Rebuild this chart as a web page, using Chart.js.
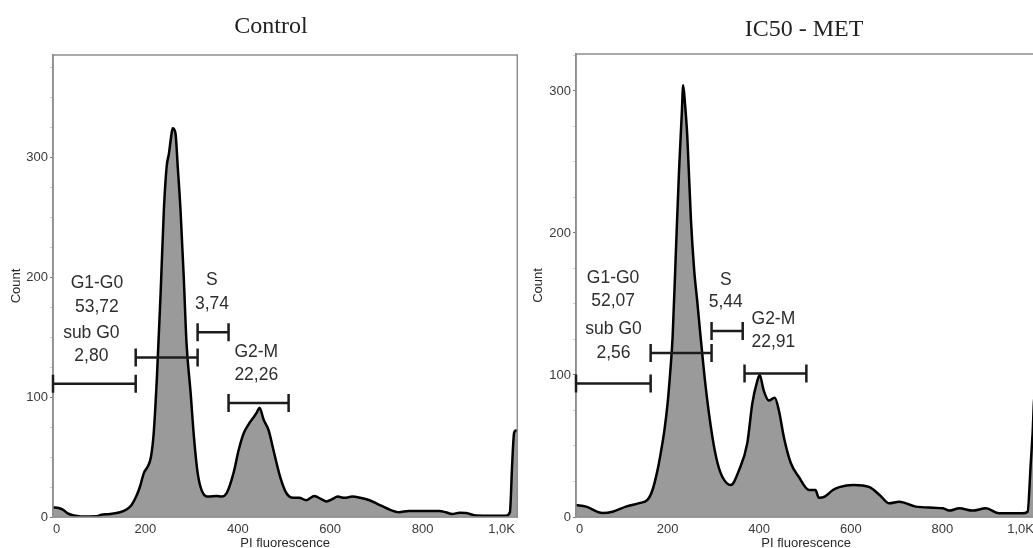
<!DOCTYPE html>
<html><head><meta charset="utf-8">
<script src="https://cdn.jsdelivr.net/npm/chart.js@4.4.1/dist/chart.umd.min.js"></script>
<style>
html,body{margin:0;padding:0;background:#fff;overflow:hidden;width:1033px;height:548px;position:relative;}
#c1{position:absolute;left:0;top:0;}
#c2{position:absolute;left:520px;top:0;}
</style></head><body>
<canvas id="c1" width="520" height="551"></canvas>
<canvas id="c2" width="519" height="551"></canvas>
<script>
// ---------- DATA ----------
const panelTitles = ['Control', 'IC50 - MET'];
const xAxisTitle = 'PI fluorescence';
const yAxisTitle = 'Count';
const xTickValues = [0, 200, 400, 600, 800, 1000];
const xTickLabels = ['0', '200', '400', '600', '800', '1,0K'];
const yTickValues = [0, 100, 200, 300];

// Control histogram (PI fluorescence vs count)
const ctrlX = [0,12,22,32,45,60,80,95,103,123,145,160,170,180,188,197,205,212,218,225,233,240,246,251,255,259,265,270,276,283,289,298,305,313,322,337,354,365,376,391,402,413,423,434,441,447,456,467,477,492,505,520,533,548,566,580,592,605,616,631,648,665,685,702,721,749,770,786,836,850,864,880,894,916,950,980,989,994,998,1002,1005];
const ctrlY = [8,7.5,6,3,1.2,0.5,0.5,0.6,1.7,2.5,4,6.5,10,17,25,37,42,50,70,117,187,256,292,303,315,324,320,292,256,200,145,103,67,37,22,17,17.5,17,20,37,56,70,77,83,87,91,81,72,56,33,20,16,16,14,17.5,15,13,15,17,16,17,16,14,11,7.5,4,5,5,5,4,2.5,3.5,3.3,1.2,1,1,4,45,70,72,72];

// IC50 - MET histogram
const metX = [0,22,58,80,109,138,156,167,178,185,193,200,206,211,218,225,231,234,238,243,251,258,265,272,283,298,309,320,338,356,374,385,396,401,410,421,434,443,454,469,487,509,523,530,543,561,575,605,641,663,684,706,742,801,815,837,866,895,924,975,986,993,997,1001,1005];
const metY = [8.5,7.3,2.8,3.7,7.3,9.8,12,19,33,45,61,80,103,127,186,244,284,304,291,268,209,174,151,127,92,56,38,28,22.5,33,52,80,96,100,89,82,84,75,56,38,28,19,19,13.5,14.3,19,21,22.5,21,15.5,9.6,10.8,7.3,6.1,4.5,6.1,4.5,6.1,2.6,2.6,3.7,38,59,85,85];

// Gates (x range in PI units, level in counts) and their percentages
const gateNames = ['sub G0', 'G1-G0', 'S', 'G2-M'];
const ctrlGatePct = ['2,80', '53,72', '3,74', '22,26'];
const ctrlGateFrom = [0, 179, 313, 380];
const ctrlGateTo = [179, 313, 380, 510];
const ctrlGateLevel = [111, 133, 154, 95];
const metGatePct = ['2,56', '52,07', '5,44', '22,91'];
const metGateFrom = [0, 163, 296, 368];
const metGateTo = [163, 296, 364, 503];
const metGateLevel = [94, 115.5, 131, 101];

// ---------- LAYOUT (label anchors in data units, title placement) ----------
const ctrlLabelAnchor = [[83,153,134],[95,195,175],[344,197.5,177.5],[440,137.5,118]];
const metLabelAnchor = [[82,132,115.5],[81,168,152],[327,167,151],[431,139,123]];

const SANS = "'Liberation Sans', Arial, sans-serif";
const SERIF = "'Liberation Serif', 'Times New Roman', serif";

const framePlugin = {
  id: 'frame',
  afterDatasetsDraw(chart) {
    const {ctx, chartArea: a} = chart;
    ctx.save();
    ctx.strokeStyle = '#8e8e8e';
    ctx.lineWidth = 1.5;
    ctx.strokeRect(a.left, a.top, a.right - a.left, a.bottom - a.top);
    ctx.restore();
  }
};

const gatePlugin = {
  id: 'gates',
  afterDatasetsDraw(chart, args, opts) {
    const {ctx} = chart;
    const xs = chart.scales.x, ys = chart.scales.y;
    ctx.save();
    ctx.strokeStyle = '#1c1c1c';
    ctx.lineWidth = 2.5;
    for (let i = 0; i < opts.from.length; i++) {
      const x1 = xs.getPixelForValue(opts.from[i]);
      const x2 = xs.getPixelForValue(opts.to[i]);
      const y = ys.getPixelForValue(opts.level[i]);
      ctx.beginPath();
      ctx.moveTo(x1, y); ctx.lineTo(x2, y);
      ctx.moveTo(x1, y - 9); ctx.lineTo(x1, y + 9);
      ctx.moveTo(x2, y - 9); ctx.lineTo(x2, y + 9);
      ctx.stroke();
    }
    ctx.fillStyle = '#2e2e2e';
    ctx.font = '17.5px ' + SANS;
    ctx.textAlign = 'center';
    ctx.textBaseline = 'middle';
    for (let i = 0; i < opts.names.length; i++) {
      const [ax, ny, vy] = opts.anchor[i];
      const px = xs.getPixelForValue(ax);
      ctx.fillText(opts.names[i], px, ys.getPixelForValue(ny));
      ctx.fillText(opts.pct[i], px, ys.getPixelForValue(vy));
    }
    // panel title
    ctx.fillStyle = '#222';
    ctx.font = '24px ' + SERIF;
    ctx.fillText(opts.title, opts.titleX, opts.titleY);
    ctx.restore();
  }
};

function makeChart(id, xs, ys, yMax, axisW, padLeftTitle, gates) {
  const pts = xs.map((x, i) => ({x, y: ys[i]}));
  return new Chart(document.getElementById(id), {
    type: 'line',
    data: { datasets: [{
      data: pts,
      borderColor: '#000',
      borderWidth: 2.5,
      backgroundColor: '#9a9a9a',
      fill: 'origin',
      pointRadius: 0,
      cubicInterpolationMode: 'monotone'
    }]},
    options: {
      responsive: false,
      animation: false,
      devicePixelRatio: 1,
      layout: { padding: { top: gates.top, right: 2, left: 0, bottom: 0 } },
      plugins: { legend: { display: false }, tooltip: { enabled: false }, gates },
      scales: {
        x: {
          type: 'linear', min: 0, max: 1005,
          afterBuildTicks: s => { s.ticks = xTickValues.map(v => ({value: v})); },
          afterFit: s => { s.height = 34; },
          ticks: {
            autoSkip: false, maxRotation: 0, align: 'inner', padding: 5,
            color: '#3a3a3a', font: { family: SANS, size: 13 },
            callback: v => xTickLabels[xTickValues.indexOf(v)]
          },
          grid: { drawOnChartArea: false, drawTicks: false },
          border: { color: '#8e8e8e', width: 1.5 },
          title: { display: true, text: xAxisTitle, color: '#2a2a2a',
                   font: { family: SANS, size: 13, lineHeight: 1.2 }, padding: { top: 0, bottom: 0 } }
        },
        y: {
          min: 0, max: yMax,
          afterBuildTicks: s => {
            const t = [];
            for (let v = 0; v <= yMax; v += 25) t.push({value: v});
            s.ticks = t;
          },
          afterFit: s => { s.width = axisW; },
          ticks: {
            autoSkip: false, padding: 2,
            color: '#3a3a3a', font: { family: SANS, size: 13 },
            callback: v => yTickValues.includes(v) ? String(v) : ''
          },
          grid: { drawOnChartArea: false, drawTicks: true, tickLength: 3,
                  tickColor: c => (c.tick && c.tick.value % 100 === 0) ? '#7a7a7a' : '#cfcfcf' },
          border: { color: '#8e8e8e', width: 1.5 },
          title: { display: true, text: yAxisTitle, color: '#2a2a2a',
                   font: { family: SANS, size: 13, lineHeight: 1.2 }, padding: { top: padLeftTitle, bottom: 0 } }
        }
      }
    },
    plugins: [framePlugin, gatePlugin]
  });
}

makeChart('c1', ctrlX, ctrlY, 385, 53, 9, {
  top: 55, names: gateNames, pct: ctrlGatePct,
  from: ctrlGateFrom, to: ctrlGateTo, level: ctrlGateLevel,
  anchor: ctrlLabelAnchor, title: panelTitles[0], titleX: 271, titleY: 27
});
makeChart('c2', metX, metY, 326, 56, 11, {
  top: 54, names: gateNames, pct: metGatePct,
  from: metGateFrom, to: metGateTo, level: metGateLevel,
  anchor: metLabelAnchor, title: panelTitles[1], titleX: 284, titleY: 30
});
</script>
</body></html>
